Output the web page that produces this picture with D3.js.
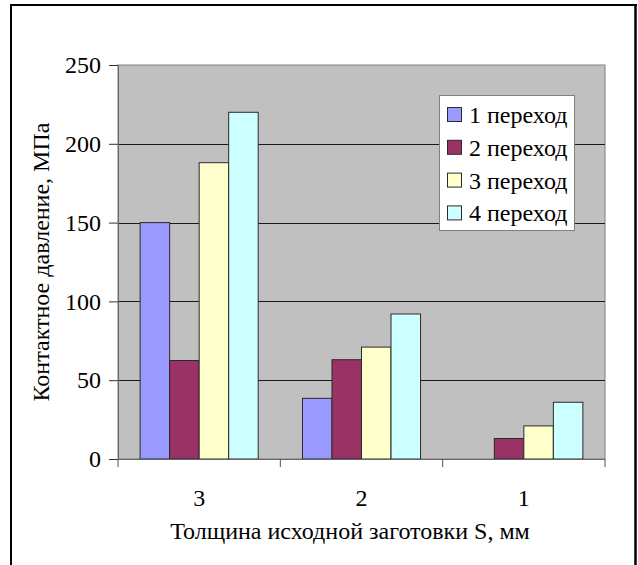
<!DOCTYPE html>
<html>
<head>
<meta charset="utf-8">
<script src="https://cdn.jsdelivr.net/npm/d3@7/dist/d3.min.js"></script>
<style>
  html, body { margin: 0; padding: 0; background: #fff; }
  svg { display: block; }
</style>
</head>
<body>
<svg id="chart" width="638" height="565"></svg>
<script>
// Blank thickness, mm (category axis)
const categories = ["3", "2", "1"];
// Passes (series)
const seriesNames = ["1 переход", "2 переход", "3 переход", "4 переход"];
const seriesColors = ["#9999ff", "#993366", "#ffffcc", "#ccffff"];
// Contact pressure, MPa, one array per pass, in category order
const pass1 = [150, 38.5, 0];
const pass2 = [62.5, 63, 13];
const pass3 = [188, 71, 21];
const pass4 = [220, 92, 36];
const seriesValues = [pass1, pass2, pass3, pass4];
const yTicks = [0, 50, 100, 150, 200, 250];

const yTitle = "Контактное давление, МПа";
const xTitle = "Толщина исходной заготовки S, мм";

const FONT = "'Liberation Serif'";
const FS = 24;

const svg = d3.select("#chart");

// page frame around the figure
svg.append("line").attr("x1", 10).attr("x2", 637).attr("y1", 5).attr("y2", 5)
  .attr("stroke", "#000").attr("stroke-width", 2);
svg.append("line").attr("x1", 11).attr("x2", 11).attr("y1", 4).attr("y2", 565)
  .attr("stroke", "#000").attr("stroke-width", 2);
svg.append("line").attr("x1", 635.5).attr("x2", 635.5).attr("y1", 4).attr("y2", 565)
  .attr("stroke", "#000").attr("stroke-width", 2.5);

const plot = { left: 118, right: 605, top: 65, bottom: 459 };

const x0 = d3.scaleBand().domain(categories).range([plot.left, plot.right]).padding(0);
const x1 = d3.scaleBand().domain(d3.range(seriesNames.length))
  .range([0, x0.bandwidth()]).paddingInner(0).paddingOuter(0.75);
const y = d3.scaleLinear().domain([0, 250]).range([plot.bottom, plot.top]);

// plot background
svg.append("rect")
  .attr("x", plot.left).attr("y", plot.top)
  .attr("width", plot.right - plot.left).attr("height", plot.bottom - plot.top)
  .attr("fill", "#c0c0c0").attr("stroke", "#808080").attr("stroke-width", 1);

// horizontal gridlines
svg.append("g").selectAll("line")
  .data(yTicks.filter(t => t > 0 && t < 250))
  .join("line")
  .attr("x1", plot.left).attr("x2", plot.right)
  .attr("y1", d => Math.round(y(d)) + 0.5).attr("y2", d => Math.round(y(d)) + 0.5)
  .attr("stroke", "#1a1a1a").attr("stroke-width", 1);

// bars
const groups = svg.append("g").selectAll("g")
  .data(seriesValues)
  .join("g")
  .attr("fill", (d, i) => seriesColors[i]);
groups.selectAll("rect")
  .data((vals, si) => vals.map((v, ci) => ({ v, ci, si })).filter(d => d.v > 0))
  .join("rect")
  .attr("x", d => x0(categories[d.ci]) + x1(d.si))
  .attr("width", x1.bandwidth())
  .attr("y", d => y(d.v))
  .attr("height", d => y(0) - y(d.v))
  .attr("stroke", "#2a2a2a").attr("stroke-width", 1);

// y axis
const yAxis = d3.axisLeft(y).tickValues(yTicks).tickSize(9).tickPadding(8).tickFormat(d3.format("d"));
const gy = svg.append("g").attr("transform", `translate(${plot.left},0)`).call(yAxis);
gy.select(".domain").attr("stroke", "#666");
gy.selectAll(".tick line").attr("stroke", "#333");

// x axis: ticks sit on the category boundaries
const gx = svg.append("g").attr("transform", `translate(0,${plot.bottom})`);
gx.append("line").attr("x1", plot.left).attr("x2", plot.right).attr("y1", 0.5).attr("y2", 0.5)
  .attr("stroke", "#666");
const boundaries = categories.map(c => x0(c)).concat([plot.right]);
gx.selectAll("line.tk").data(boundaries).join("line").attr("class", "tk")
  .attr("x1", d => d).attr("x2", d => d).attr("y1", 0).attr("y2", 8)
  .attr("stroke", "#555");
gx.selectAll("text").data(categories).join("text")
  .attr("x", d => x0(d) + x0.bandwidth() / 2)
  .attr("y", 47)
  .attr("text-anchor", "middle")
  .text(d => d);

// axis titles
svg.append("text")
  .attr("x", 350).attr("y", 539)
  .attr("text-anchor", "middle")
  .text(xTitle);
svg.append("text")
  .attr("transform", "translate(49,262) rotate(-90)")
  .attr("text-anchor", "middle")
  .text(yTitle);

// legend
const legend = svg.append("g");
legend.append("rect").attr("x", 439.5).attr("y", 95.5).attr("width", 135).attr("height", 135)
  .attr("fill", "#fff").attr("stroke", "#808080");
const items = legend.selectAll("g.item").data(seriesNames).join("g").attr("class", "item")
  .attr("transform", (d, i) => `translate(447,${107 + i * 32.8})`);
items.append("rect").attr("x", 0.5).attr("y", 0.5).attr("width", 14).attr("height", 14)
  .attr("fill", (d, i) => seriesColors[i]).attr("stroke", "#2a2a2a");
items.append("text").attr("x", 22).attr("y", 16).text(d => d);

// one typeface for every label
svg.selectAll("text").style("font-family", FONT).style("font-size", FS + "px").attr("fill", "#000");
</script>
</body>
</html>
